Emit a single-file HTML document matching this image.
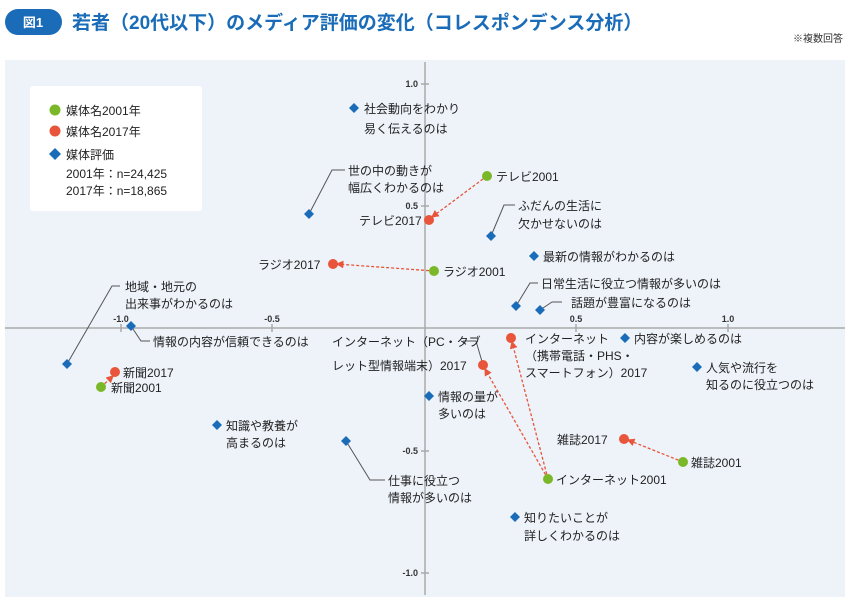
<!DOCTYPE html>
<html><head><meta charset="utf-8"><style>
html,body{margin:0;padding:0;background:#fff;}
body{width:850px;height:603px;overflow:hidden;font-family:"Liberation Sans","Noto Sans CJK JP",sans-serif;}
</style></head><body>
<svg width="850" height="603" viewBox="0 0 850 603" xmlns="http://www.w3.org/2000/svg" font-family="Liberation Sans, Noto Sans CJK JP, sans-serif">
<defs>
<marker id="ar" markerWidth="6" markerHeight="6" refX="5" refY="3" orient="auto"><path d="M0,0 L6,3 L0,6 z" fill="#e8553a"/></marker>
</defs>
<rect x="5" y="9" width="57" height="26" rx="13" fill="#1a6cb8"/>
<text x="33" y="27" font-size="13" font-weight="bold" fill="#fff" text-anchor="middle">図1</text>
<text x="72" y="29" font-size="19" font-weight="bold" fill="#1a6cb8">若者（20代以下）のメディア評価の変化（コレスポンデンス分析）</text>
<text x="843" y="42" font-size="10" fill="#333" text-anchor="end">※複数回答</text>
<rect x="5" y="60" width="840" height="537" fill="#eef3fa"/>
<rect x="30" y="86" width="172" height="125" rx="3" fill="#fff"/>
<circle cx="55" cy="110" r="5.5" fill="#7ab829"/><text x="66" y="115" font-size="12" fill="#222">媒体名2001年</text>
<circle cx="55" cy="131" r="5.5" fill="#e8553a"/><text x="66" y="136" font-size="12" fill="#222">媒体名2017年</text>
<path d="M55,148 L61,154 L55,160 L49,154 z" fill="#1a6cb8"/><text x="66" y="159" font-size="12" fill="#222">媒体評価</text>
<text x="66" y="178" font-size="12" fill="#222">2001年：n=24,425</text>
<text x="66" y="195" font-size="12" fill="#222">2017年：n=18,865</text>
<g stroke="#aaa" stroke-width="1.5">
<line x1="5" y1="328" x2="845" y2="328"/>
<line x1="425" y1="62" x2="425" y2="595"/>
<line x1="121" y1="324" x2="121" y2="332"/><line x1="272" y1="324" x2="272" y2="332"/>
<line x1="576" y1="324" x2="576" y2="332"/><line x1="728" y1="324" x2="728" y2="332"/>
<line x1="421" y1="84" x2="429" y2="84"/><line x1="421" y1="206" x2="429" y2="206"/>
<line x1="421" y1="451" x2="429" y2="451"/><line x1="421" y1="573" x2="429" y2="573"/>
</g>
<g font-size="9" font-weight="bold" fill="#333">
<text x="121" y="322" text-anchor="middle">-1.0</text><text x="272" y="322" text-anchor="middle">-0.5</text>
<text x="576" y="322" text-anchor="middle">0.5</text><text x="728" y="322" text-anchor="middle">1.0</text>
<text x="418" y="87" text-anchor="end">1.0</text><text x="418" y="209" text-anchor="end">0.5</text>
<text x="418" y="454" text-anchor="end">-0.5</text><text x="418" y="576" text-anchor="end">-1.0</text>
</g>
<g stroke="#555" fill="none" stroke-width="1">
<polyline points="309,214 332,170 345,170"/>
<polyline points="491,236 504,205 515,205"/>
<polyline points="516,306 530,283 538,283"/>
<polyline points="540,310 552,302 562,302"/>
<polyline points="67,364 112,286 120,286"/>
<polyline points="131,326 141,341 150,341"/>
<polyline points="346,441 370,480 385,480"/>
<polyline points="463,341 476,341 483,365"/>
</g>
<g stroke="#e8553a" stroke-width="1.3" stroke-dasharray="3,2" fill="none" marker-end="url(#ar)">
<line x1="487" y1="176" x2="432" y2="217"/>
<line x1="434" y1="271" x2="337" y2="264"/>
<line x1="548" y1="479" x2="485" y2="369"/>
<line x1="548" y1="479" x2="512" y2="342"/>
<line x1="683" y1="462" x2="628" y2="440"/>
<line x1="101" y1="387" x2="113" y2="376"/>
</g>
<g fill="#7ab829"><circle cx="487" cy="176" r="5"/><circle cx="434" cy="271" r="5"/><circle cx="548" cy="479" r="5"/><circle cx="683" cy="462" r="5"/><circle cx="101" cy="387" r="5"/></g>
<g fill="#e8553a"><circle cx="429" cy="220" r="5"/><circle cx="333" cy="264" r="5"/><circle cx="483" cy="365" r="5"/><circle cx="511" cy="338" r="5"/><circle cx="624" cy="439" r="5"/><circle cx="115" cy="372" r="5"/></g>
<g fill="#1a6cb8">
<path d="M354,103l5,5l-5,5l-5,-5z"/><path d="M309,209l5,5l-5,5l-5,-5z"/><path d="M491,231l5,5l-5,5l-5,-5z"/>
<path d="M534,251l5,5l-5,5l-5,-5z"/><path d="M516,301l5,5l-5,5l-5,-5z"/><path d="M540,305l5,5l-5,5l-5,-5z"/>
<path d="M625,333l5,5l-5,5l-5,-5z"/><path d="M697,362l5,5l-5,5l-5,-5z"/><path d="M67,359l5,5l-5,5l-5,-5z"/>
<path d="M131,321l5,5l-5,5l-5,-5z"/><path d="M429,391l5,5l-5,5l-5,-5z"/><path d="M217,420l5,5l-5,5l-5,-5z"/>
<path d="M346,436l5,5l-5,5l-5,-5z"/><path d="M515,512l5,5l-5,5l-5,-5z"/>
</g>
<g font-size="12" fill="#222">
<text x="364" y="113">社会動向をわかり</text><text x="364" y="133">易く伝えるのは</text>
<text x="348" y="175">世の中の動きが</text><text x="348" y="192">幅広くわかるのは</text>
<text x="496" y="181">テレビ2001</text>
<text x="359" y="225">テレビ2017</text>
<text x="518" y="210">ふだんの生活に</text><text x="518" y="228">欠かせないのは</text>
<text x="543" y="261">最新の情報がわかるのは</text>
<text x="258" y="269">ラジオ2017</text>
<text x="443" y="276">ラジオ2001</text>
<text x="541" y="288">日常生活に役立つ情報が多いのは</text>
<text x="571" y="307">話題が豊富になるのは</text>
<text x="125" y="291">地域・地元の</text><text x="125" y="308">出来事がわかるのは</text>
<text x="153" y="346">情報の内容が信頼できるのは</text>
<text x="332" y="346">インターネット（PC・タブ</text><text x="332" y="370">レット型情報端末）2017</text>
<text x="525" y="343">インターネット</text><text x="525" y="360">（携帯電話・PHS・</text><text x="525" y="377">スマートフォン）2017</text>
<text x="634" y="343">内容が楽しめるのは</text>
<text x="706" y="372">人気や流行を</text><text x="706" y="389">知るのに役立つのは</text>
<text x="123" y="377">新聞2017</text>
<text x="111" y="392">新聞2001</text>
<text x="438" y="401">情報の量が</text><text x="438" y="418">多いのは</text>
<text x="226" y="430">知識や教養が</text><text x="226" y="447">高まるのは</text>
<text x="557" y="444">雑誌2017</text>
<text x="691" y="467">雑誌2001</text>
<text x="556" y="484">インターネット2001</text>
<text x="388" y="485">仕事に役立つ</text><text x="388" y="502">情報が多いのは</text>
<text x="524" y="522">知りたいことが</text><text x="524" y="540">詳しくわかるのは</text>
</g>
</svg>
</body></html>
